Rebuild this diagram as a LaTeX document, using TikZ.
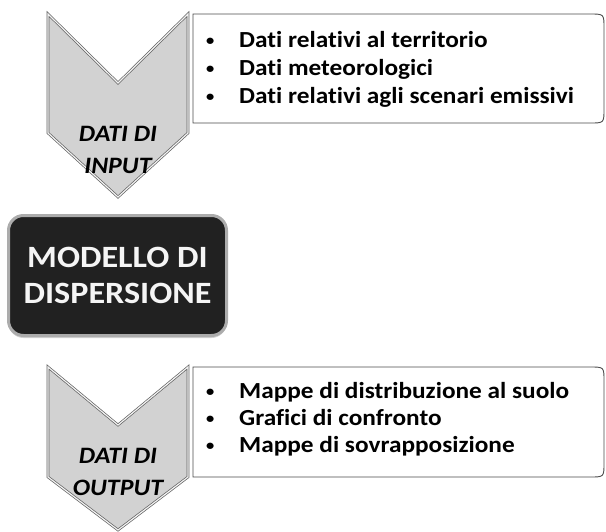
\documentclass[tikz,border=0pt]{standalone}
\usepackage{fontspec}
\setmainfont{Carlito}[FakeStretch=1.1, Ligatures=NoCommon]
\usetikzlibrary{positioning,shadows}

\tikzset{
  chev/.style={draw=gray!75!black, line width=.7pt, double=gray!10, double distance=1.2pt, fill=gray!35, line join=miter},
  chevtext/.style={font=\bfseries\itshape\fontsize{23.5}{32}\selectfont, align=center, inner sep=0pt},
  listbox/.style={draw=gray!60!black, line width=.9pt, fill=white},
  listitem/.style={inner sep=0pt, font=\bfseries\fontsize{23}{26}\selectfont},
  modelbox/.style={draw=gray!65, line width=3pt, fill=black!87, rounded corners=15pt, text=gray!8,
    font=\bfseries\fontsize{31}{36}\selectfont, align=center,
    drop shadow={opacity=.35, shadow xshift=0pt, shadow yshift=-2.5pt}}
}
\newcommand{\bul}{\makebox[33pt][l]{\raisebox{1.5pt}{\fontsize{15}{15}\selectfont\textbullet}}}

\begin{document}
\begin{tikzpicture}[x=1pt,y=-1pt,node distance=28pt,on grid]
  \useasboundingbox (0,0) rectangle (606,531);
  % input
  \draw[chev] (48,14) -- (118,83) -- (188,14) -- (188,133) -- (118,197) -- (48,133) -- cycle;
  \node[chevtext] (input) at (118,150) {DATI DI\\INPUT};
  \draw[listbox] (193,14) -- (590,14) .. controls (604,14) .. (604,28) -- (604,109)
    .. controls (604,123) .. (590,123) -- (193,123) -- cycle;
  \node[listitem, anchor=base west] (in1) at (206,47) {\bul Dati relativi al territorio};
  \node[listitem] (in2) [below=of in1.base west, anchor=base west] {\bul Dati meteorologici};
  \node[listitem] (in3) [below=of in2.base west, anchor=base west] {\bul Dati relativi agli scenari emissivi};
  % modello
  \node[modelbox, minimum width=218pt, minimum height=120pt] (model) at (117.5,275.5) {MODELLO DI\\DISPERSIONE};
  % output
  \draw[chev] (48,367) -- (118,425) -- (188,367) -- (188,477) -- (118,530) -- (48,477) -- cycle;
  \node[chevtext] (output) at (118,471.5) {DATI DI\\OUTPUT};
  \draw[listbox] (193,367) -- (590,367) .. controls (604,367) .. (604,381) -- (604,463)
    .. controls (604,477) .. (590,477) -- (193,477) -- cycle;
  \node[listitem, anchor=base west] (out1) at (206,398) {\bul Mappe di distribuzione al suolo};
  \node[listitem] (out2) [below=27pt of out1.base west, anchor=base west] {\bul Grafici di confronto};
  \node[listitem] (out3) [below=27pt of out2.base west, anchor=base west] {\bul Mappe di sovrapposizione};
\end{tikzpicture}
\end{document}
